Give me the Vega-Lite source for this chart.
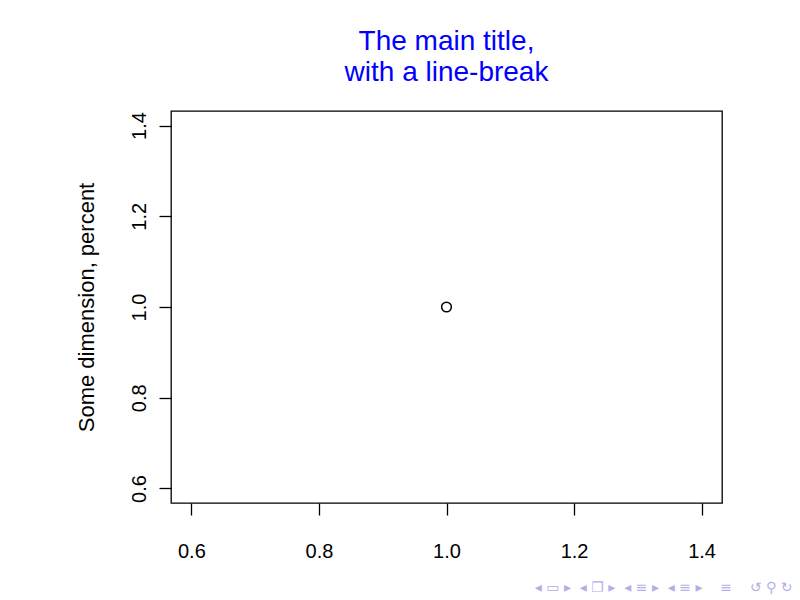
{
  "$schema": "https://vega.github.io/schema/vega-lite/v6.json",
  "width": 551,
  "height": 392,
  "autosize": {"type": "none"},
  "padding": {"left": 171, "top": 111, "right": 78, "bottom": 97},
  "background": "white",
  "config": {
    "view": {"stroke": "black", "strokeWidth": 1.3},
    "font": "Liberation Sans"
  },
  "title": {
    "text": ["The main title,", "with a line-break"],
    "color": "blue",
    "fontSize": 28,
    "fontWeight": "normal",
    "lineHeight": 31,
    "anchor": "middle",
    "offset": 24,
    "font": "Liberation Sans"
  },
  "data": {"values": [{"x": 1, "y": 1}]},
  "mark": {"type": "point", "shape": "circle", "filled": false, "color": "black", "size": 95, "strokeWidth": 1.5, "opacity": 1},
  "encoding": {
    "x": {
      "field": "x",
      "type": "quantitative",
      "scale": {"domain": [0.568, 1.432], "nice": false, "zero": false},
      "axis": {
        "values": [0.6, 0.8, 1.0, 1.2, 1.4],
        "format": ".1f",
        "grid": false,
        "domain": false,
        "tickColor": "black",
        "tickSize": 12,
        "tickWidth": 1.3,
        "labelFontSize": 20,
        "labelColor": "black",
        "labelFont": "Liberation Sans",
        "labelBaseline": "alphabetic",
        "labelPadding": 42,
        "labelFlush": false,
        "title": "◂\u00a0▭\u00a0▸\u00a0\u00a0◂\u00a0❐\u00a0▸\u00a0\u00a0◂\u00a0≡\u00a0▸\u00a0\u00a0◂\u00a0≡\u00a0▸\u00a0\u00a0\u00a0\u00a0≡\u00a0\u00a0\u00a0\u00a0↺\u00a0⚲\u00a0↻",
        "titleColor": "#b0b0e8",
        "titleFontSize": 14,
        "titleFontWeight": "normal",
        "titleFont": "DejaVu Sans",
        "titleX": 621,
        "titleY": 84,
        "titleAlign": "right",
        "titleBaseline": "middle",
        "titleAnchor": null
      }
    },
    "y": {
      "field": "y",
      "type": "quantitative",
      "scale": {"domain": [0.568, 1.432], "nice": false, "zero": false},
      "axis": {
        "values": [0.6, 0.8, 1.0, 1.2, 1.4],
        "format": ".1f",
        "grid": false,
        "domain": false,
        "tickColor": "black",
        "tickSize": 12,
        "tickWidth": 1.3,
        "labelFontSize": 20,
        "labelColor": "black",
        "labelFont": "Liberation Sans",
        "labelAngle": -90,
        "labelAlign": "center",
        "labelBaseline": "alphabetic",
        "labelPadding": 14,
        "labelFlush": false,
        "title": "Some dimension, percent",
        "titleColor": "black",
        "titleFontSize": 22,
        "titleFontWeight": "normal",
        "titleFont": "Liberation Sans",
        "titleAngle": -90,
        "titleX": -78,
        "titleY": 196,
        "titleAlign": "center",
        "titleBaseline": "alphabetic"
      }
    }
  }
}
